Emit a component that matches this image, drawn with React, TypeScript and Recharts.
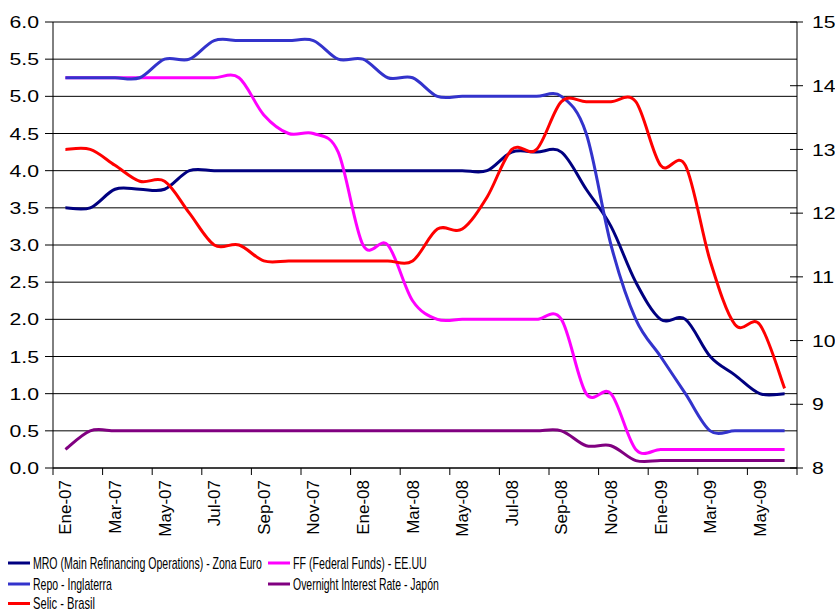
import { CartesianGrid, Legend, Line, LineChart, XAxis, YAxis } from "recharts";

const months = [
  "Ene-07", "Feb-07", "Mar-07", "Abr-07", "May-07", "Jun-07",
  "Jul-07", "Ago-07", "Sep-07", "Oct-07", "Nov-07", "Dic-07",
  "Ene-08", "Feb-08", "Mar-08", "Abr-08", "May-08", "Jun-08",
  "Jul-08", "Ago-08", "Sep-08", "Oct-08", "Nov-08", "Dic-08",
  "Ene-09", "Feb-09", "Mar-09", "Abr-09", "May-09", "Jun-09",
];

const mroEuro = [
  3.5, 3.5, 3.75, 3.75, 3.75, 4.0, 4.0, 4.0, 4.0, 4.0, 4.0, 4.0,
  4.0, 4.0, 4.0, 4.0, 4.0, 4.0, 4.25, 4.25, 4.25, 3.75, 3.25, 2.5,
  2.0, 2.0, 1.5, 1.25, 1.0, 1.0,
];

const ffUsa = [
  5.25, 5.25, 5.25, 5.25, 5.25, 5.25, 5.25, 5.25, 4.75, 4.5, 4.5, 4.25,
  3.0, 3.0, 2.25, 2.0, 2.0, 2.0, 2.0, 2.0, 2.0, 1.0, 1.0, 0.25,
  0.25, 0.25, 0.25, 0.25, 0.25, 0.25,
];

const repoUk = [
  5.25, 5.25, 5.25, 5.25, 5.5, 5.5, 5.75, 5.75, 5.75, 5.75, 5.75, 5.5,
  5.5, 5.25, 5.25, 5.0, 5.0, 5.0, 5.0, 5.0, 5.0, 4.5, 3.0, 2.0,
  1.5, 1.0, 0.5, 0.5, 0.5, 0.5,
];

const overnightJapan = [
  0.25, 0.5, 0.5, 0.5, 0.5, 0.5, 0.5, 0.5, 0.5, 0.5, 0.5, 0.5,
  0.5, 0.5, 0.5, 0.5, 0.5, 0.5, 0.5, 0.5, 0.5, 0.3, 0.3, 0.1,
  0.1, 0.1, 0.1, 0.1, 0.1, 0.1,
];

const selicBrasil = [
  13.0, 13.0, 12.75, 12.5, 12.5, 12.0, 11.5, 11.5, 11.25, 11.25, 11.25, 11.25,
  11.25, 11.25, 11.25, 11.75, 11.75, 12.25, 13.0, 13.0, 13.75, 13.75, 13.75, 13.75,
  12.75, 12.75, 11.25, 10.25, 10.25, 9.25,
];

const leftTicks = [0, 0.5, 1, 1.5, 2, 2.5, 3, 3.5, 4, 4.5, 5, 5.5, 6];
const rightTicks = [8, 9, 10, 11, 12, 13, 14, 15];

// drawing order = excel series order (selic on top)
const series = [
  { key: "mro", name: "MRO (Main Refinancing Operations) - Zona Euro", color: "#000080", axis: "left" },
  { key: "ff", name: "FF (Federal Funds) - EE.UU", color: "#FF00FF", axis: "left" },
  { key: "repo", name: "Repo - Inglaterra", color: "#3333CC", axis: "left" },
  { key: "japon", name: "Overnight Interest Rate - Japón", color: "#800080", axis: "left" },
  { key: "selic", name: "Selic - Brasil", color: "#FF0000", axis: "right" },
];

const chartData = months.map((month, i) => ({
  month,
  mro: mroEuro[i],
  ff: ffUsa[i],
  repo: repoUk[i],
  japon: overnightJapan[i],
  selic: selicBrasil[i],
}));

const FONT = "'Liberation Sans', Arial, sans-serif";
const PLOT_LEFT = 53;
const PLOT_RIGHT = 797;
const HALF_BAND = (PLOT_RIGHT - PLOT_LEFT) / months.length / 2;

// excel-style smoothing (catmull-rom through the points)
function excelSmooth(context: any) {
  let pts: number[][] = [];
  return {
    areaStart() {},
    areaEnd() {},
    lineStart() {
      pts = [];
    },
    point(x: number, y: number) {
      pts.push([+x, +y]);
    },
    lineEnd() {
      const n = pts.length;
      if (!n) return;
      context.moveTo(pts[0][0], pts[0][1]);
      for (let i = 0; i < n - 1; i++) {
        const p0 = pts[Math.max(i - 1, 0)];
        const p1 = pts[i];
        const p2 = pts[i + 1];
        const p3 = pts[Math.min(i + 2, n - 1)];
        context.bezierCurveTo(
          p1[0] + (p2[0] - p0[0]) / 6,
          p1[1] + (p2[1] - p0[1]) / 6,
          p2[0] - (p3[0] - p1[0]) / 6,
          p2[1] - (p3[1] - p1[1]) / 6,
          p2[0],
          p2[1]
        );
      }
    },
  };
}

function LeftTick({ x, y, payload }: any) {
  return (
    <text
      transform={`translate(${x},${y}) scale(1.25,1)`}
      textAnchor="end"
      dy="0.36em"
      fontFamily={FONT}
      fontSize={17}
      fill="#000"
    >
      {Number(payload.value).toFixed(1)}
    </text>
  );
}

function RightTick({ x, y, payload }: any) {
  return (
    <g>
      <line x1={x - 22} x2={x - 9} y1={y} y2={y} stroke="#000" />
      {payload.value === 8 && (
        <line x1={x - 15} x2={x - 15} y1={y} y2={y + 7} stroke="#000" />
      )}
      <text
        transform={`translate(${x},${y}) scale(1.25,1)`}
        textAnchor="start"
        dy="0.36em"
        fontFamily={FONT}
        fontSize={17}
        fill="#000"
      >
        {payload.value}
      </text>
    </g>
  );
}

function MonthTick({ x, y, payload }: any) {
  return (
    <g>
      <line x1={x - HALF_BAND} x2={x - HALF_BAND} y1={y - 12} y2={y - 5} stroke="#000" />
      <text
        transform={`translate(${x + 6},${y}) rotate(-90)`}
        textAnchor="end"
        fontFamily={FONT}
        fontSize={17}
        fill="#000"
      >
        {payload.value}
      </text>
    </g>
  );
}

const LEGEND_FONT_SIZE = 16;
const legendSlots = [
  { x: 8, y: 13, textWidth: 229 },
  { x: 268, y: 13, textWidth: 134 },
  { x: 8, y: 34, textWidth: 79 },
  { x: 268, y: 34, textWidth: 146 },
  { x: 8, y: 53.5, textWidth: 62 },
];

let measureCtx: CanvasRenderingContext2D | null = null;
function naturalWidth(text: string) {
  if (!measureCtx) measureCtx = document.createElement("canvas").getContext("2d");
  if (!measureCtx) return text.length * LEGEND_FONT_SIZE * 0.5;
  measureCtx.font = `${LEGEND_FONT_SIZE}px 'Liberation Sans', Arial, sans-serif`;
  return measureCtx.measureText(text).width;
}

function ChartLegend() {
  return (
    <svg width={835} height={62}>
      {series.map((s, i) => {
        const slot = legendSlots[i];
        const sx = slot.textWidth / naturalWidth(s.name);
        return (
          <g key={s.key}>
            <line
              x1={slot.x}
              x2={slot.x + 22}
              y1={slot.y}
              y2={slot.y}
              stroke={s.color}
              strokeWidth={3}
            />
            <text
              transform={`translate(${slot.x + 25},${slot.y + 5.5}) scale(${sx},1)`}
              fontFamily={FONT}
              fontSize={LEGEND_FONT_SIZE}
              fill="#000"
            >
              {s.name}
            </text>
          </g>
        );
      })}
    </svg>
  );
}

export default function App() {
  return (
    <div style={{ position: "absolute", left: 0, top: 0, background: "#fff" }}>
      <LineChart
        width={835}
        height={612}
        data={chartData}
        margin={{ top: 22, right: 0, bottom: 0, left: 0 }}
      >
        <CartesianGrid
          yAxisId="left"
          vertical={false}
          stroke="#000"
          strokeWidth={1}
        />
        <XAxis
          dataKey="month"
          height={144}
          interval={1}
          padding={{ left: HALF_BAND, right: HALF_BAND }}
          tickLine={false}
          tickSize={7}
          tickMargin={5}
          axisLine={{ stroke: "#000" }}
          tick={(p: any) => <MonthTick {...p} />}
        />
        <YAxis
          yAxisId="left"
          width={53}
          domain={[0, 6]}
          ticks={leftTicks}
          interval={0}
          tickSize={8}
          tickMargin={6}
          tickLine={{ stroke: "#000" }}
          axisLine={{ stroke: "#000" }}
          tick={(p: any) => <LeftTick {...p} />}
        />
        <YAxis
          yAxisId="right"
          orientation="right"
          width={38}
          domain={[8, 15]}
          ticks={rightTicks}
          interval={0}
          tickSize={6}
          tickMargin={9}
          tickLine={false}
          axisLine={{ stroke: "#000" }}
          tick={(p: any) => <RightTick {...p} />}
        />
        <Legend
          layout="horizontal"
          verticalAlign="middle"
          align="center"
          wrapperStyle={{ top: 550, left: 0, width: 835 }}
          content={() => <ChartLegend />}
        />
        {series.map((s) => (
          <Line
            key={s.key}
            yAxisId={s.axis}
            dataKey={s.key}
            name={s.name}
            type={excelSmooth as any}
            stroke={s.color}
            strokeWidth={3}
            dot={false}
            activeDot={false}
            isAnimationActive={false}
          />
        ))}
      </LineChart>
    </div>
  );
}
